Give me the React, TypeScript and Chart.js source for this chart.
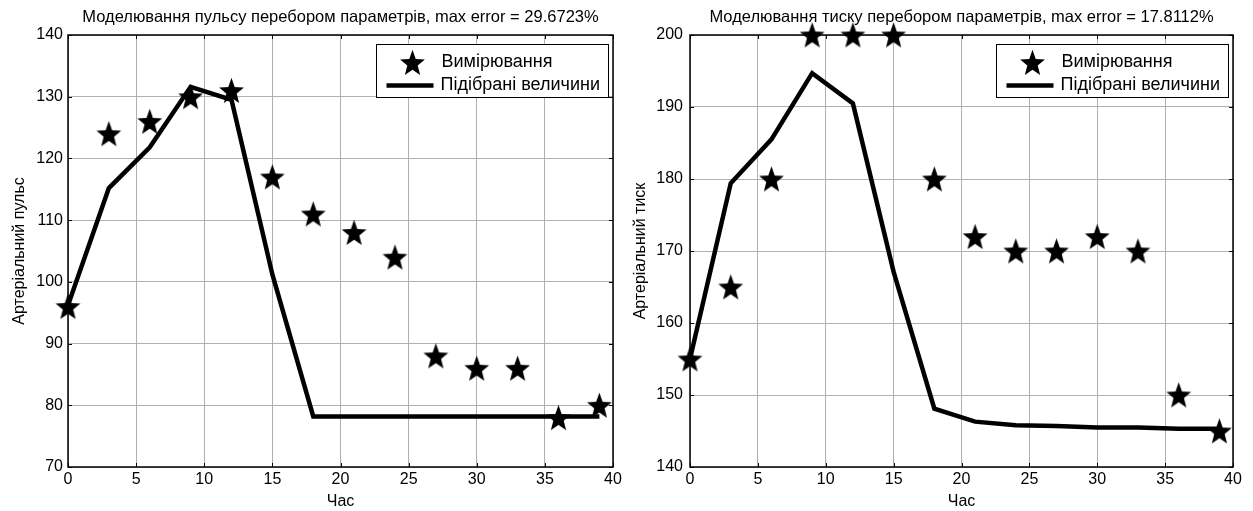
import React, { useEffect, useRef } from 'react';
import { Chart, registerables } from 'chart.js';

Chart.register(...registerables);

// ---- data ----
const hours = [0, 3, 6, 9, 12, 15, 18, 21, 24, 27, 30, 33, 36, 39];
const pulseMeasured = [96, 124, 126, 130, 131, 117, 111, 108, 104, 88, 86, 86, 78, 80];
const pulseFitted = [96.2, 115.2, 121.8, 131.6, 129.5, 101.2, 78.2, 78.2, 78.2, 78.2, 78.2, 78.2, 78.2, 78.2];
const pressureMeasured = [155, 165, 180, 200, 200, 200, 180, 172, 170, 170, 172, 170, 150, 145];
const pressureFitted = [155, 179.4, 185.5, 194.7, 190.5, 167.1, 148.1, 146.3, 145.8, 145.7, 145.5, 145.5, 145.3, 145.3];

const xTicks = [0, 5, 10, 15, 20, 25, 30, 35, 40];
const pulseTicks = [70, 80, 90, 100, 110, 120, 130, 140];
const pressureTicks = [140, 150, 160, 170, 180, 190, 200];

const legendLabels = ['Вимірювання', 'Підібрані величини'];
const xLabel = 'Час';
const pulseTitle = 'Моделювання пульсу перебором параметрів, max error = 29.6723%';
const pressureTitle = 'Моделювання тиску перебором параметрів, max error = 17.8112%';
const pulseYLabel = 'Артеріальний пульс';
const pressureYLabel = 'Артеріальний тиск';

const FONT = '"Liberation Sans", Arial, sans-serif';

function makeStar(R: number, sy: number): HTMLCanvasElement {
  const s = Math.ceil(R * 2 * sy) + 2;
  const c = document.createElement('canvas');
  c.width = s;
  c.height = s;
  const g = c.getContext('2d')!;
  g.fillStyle = '#000';
  g.beginPath();
  const cx = s / 2;
  const cy = s / 2 + R * 0.09 * sy;
  for (let i = 0; i < 10; i++) {
    const r = i % 2 === 0 ? R : R * 0.42;
    const a = -Math.PI / 2 + (i * Math.PI) / 5;
    const x = cx + r * Math.cos(a);
    const y = cy + r * Math.sin(a) * sy;
    if (i === 0) g.moveTo(x, y);
    else g.lineTo(x, y);
  }
  g.closePath();
  g.fill();
  return c;
}

const framePlugin = {
  id: 'matlabFrame',
  afterDraw(chart: any, _args: any, opts: any) {
    const { ctx, chartArea: a, scales } = chart;
    ctx.save();
    // inward ticks
    ctx.strokeStyle = '#000';
    ctx.lineWidth = 1;
    const tl = 4;
    ctx.beginPath();
    for (const v of opts.xTicks) {
      const px = Math.round(scales.x.getPixelForValue(v)) + 0.5;
      ctx.moveTo(px, a.bottom);
      ctx.lineTo(px, a.bottom - tl);
      ctx.moveTo(px, a.top);
      ctx.lineTo(px, a.top + tl);
    }
    for (const v of opts.yTicks) {
      const py = Math.round(scales.y.getPixelForValue(v)) + 0.5;
      ctx.moveTo(a.left, py);
      ctx.lineTo(a.left + tl, py);
      ctx.moveTo(a.right, py);
      ctx.lineTo(a.right - tl, py);
    }
    ctx.stroke();
    // box
    ctx.lineWidth = 1.5;
    ctx.strokeRect(a.left, a.top, a.right - a.left, a.bottom - a.top);

    // legend
    const bw = 232;
    const bh = 53;
    const bx = Math.round(a.right - 5 - bw) + 0.5;
    const by = Math.round(a.top + 9) + 0.5;
    ctx.fillStyle = '#fff';
    ctx.fillRect(bx, by, bw, bh);
    ctx.lineWidth = 1;
    ctx.strokeStyle = '#000';
    ctx.strokeRect(bx, by, bw, bh);
    const star: HTMLCanvasElement = opts.star;
    const r1 = by + 18;
    const r2 = by + 41;
    ctx.drawImage(star, bx + 36 - star.width / 2, r1 - star.height / 2);
    ctx.lineWidth = 4.5;
    ctx.beginPath();
    ctx.moveTo(bx + 10, r2);
    ctx.lineTo(bx + 57, r2);
    ctx.stroke();
    ctx.fillStyle = '#000';
    ctx.font = `18px ${FONT}`;
    ctx.textBaseline = 'middle';
    ctx.textAlign = 'left';
    ctx.fillText(opts.labels[0], bx + 65, r1);
    ctx.fillText(opts.labels[1], bx + 64, r2);
    ctx.restore();
  },
};

interface PanelProps {
  title: string;
  yLabel: string;
  measured: number[];
  fitted: number[];
  yTicks: number[];
  yWidth: number;
  yTitlePad: number;
  yTickPad: number;
  padRight: number;
  width: number;
}

function Panel(p: PanelProps) {
  const ref = useRef<HTMLCanvasElement | null>(null);
  useEffect(() => {
    const star = makeStar(13, 1.08);
    const yMin = p.yTicks[0];
    const yMax = p.yTicks[p.yTicks.length - 1];
    const chart = new Chart(ref.current!, {
      type: 'line',
      data: {
        datasets: [
          {
            label: legendLabels[1],
            data: hours.map((h, i) => ({ x: h, y: p.fitted[i] })),
            borderColor: '#000',
            borderWidth: 4.5,
            borderJoinStyle: 'miter',
            pointRadius: 0,
            fill: false,
            tension: 0,
          },
          {
            label: legendLabels[0],
            data: hours.map((h, i) => ({ x: h, y: p.measured[i] })),
            showLine: false,
            pointStyle: star,
            pointRadius: 13,
            borderColor: '#000',
            backgroundColor: '#000',
            clip: false,
          } as any,
        ],
      },
      options: {
        responsive: false,
        animation: false,
        devicePixelRatio: 1,
        layout: { padding: { left: 0, right: p.padRight, top: 0, bottom: 0 } },
        plugins: {
          legend: { display: false },
          tooltip: { enabled: false },
          title: {
            display: true,
            text: p.title,
            fullSize: false,
            color: '#000',
            font: { family: FONT, size: 16.5, weight: 'normal' as any, lineHeight: 1.2 },
            padding: { top: 8, bottom: 7.2 },
          },
          matlabFrame: { xTicks, yTicks: p.yTicks, labels: legendLabels, star },
        } as any,
        scales: {
          x: {
            type: 'linear',
            min: 0,
            max: 40,
            afterFit: (s: any) => {
              s.height = 44;
            },
            afterBuildTicks: (s: any) => {
              s.ticks = xTicks.map((v) => ({ value: v }));
            },
            ticks: {
              autoSkip: false,
              maxRotation: 0,
              padding: 3,
              color: '#000',
              font: { family: FONT, size: 16 },
            },
            grid: { color: '#b0b0b0', lineWidth: 1, drawTicks: false },
            border: { display: false },
            title: {
              display: true,
              text: xLabel,
              color: '#000',
              font: { family: FONT, size: 16, lineHeight: 1.2 },
              padding: { top: 0, bottom: 0 },
            },
          },
          y: {
            type: 'linear',
            min: yMin,
            max: yMax,
            afterFit: (s: any) => {
              s.width = p.yWidth;
            },
            afterBuildTicks: (s: any) => {
              s.ticks = p.yTicks.map((v) => ({ value: v }));
            },
            ticks: {
              padding: p.yTickPad,
              color: '#000',
              font: { family: FONT, size: 16 },
            },
            grid: { color: '#b0b0b0', lineWidth: 1, drawTicks: false },
            border: { display: false },
            title: {
              display: true,
              text: p.yLabel,
              color: '#000',
              font: { family: FONT, size: 16, lineHeight: 1.2 },
              padding: { top: p.yTitlePad, bottom: 0 },
            },
          },
        },
      },
      plugins: [framePlugin],
    } as any);
    return () => chart.destroy();
  }, []);
  return <canvas ref={ref} width={p.width} height={511} style={{ display: 'block', width: p.width, height: 511 }} />;
}

export default function App() {
  return (
    <div
      style={{
        position: 'fixed',
        left: 0,
        top: 0,
        width: 1253,
        height: 511,
        background: '#fff',
        display: 'flex',
        flexDirection: 'row',
      }}
    >
      <Panel
        title={pulseTitle}
        yLabel={pulseYLabel}
        measured={pulseMeasured}
        fitted={pulseFitted}
        yTicks={pulseTicks}
        yWidth={68}
        yTitlePad={10.4}
        yTickPad={5}
        padRight={13}
        width={627}
      />
      <Panel
        title={pressureTitle}
        yLabel={pressureYLabel}
        measured={pressureMeasured}
        fitted={pressureFitted}
        yTicks={pressureTicks}
        yWidth={63}
        yTitlePad={4.4}
        yTickPad={7}
        padRight={20}
        width={626}
      />
    </div>
  );
}
